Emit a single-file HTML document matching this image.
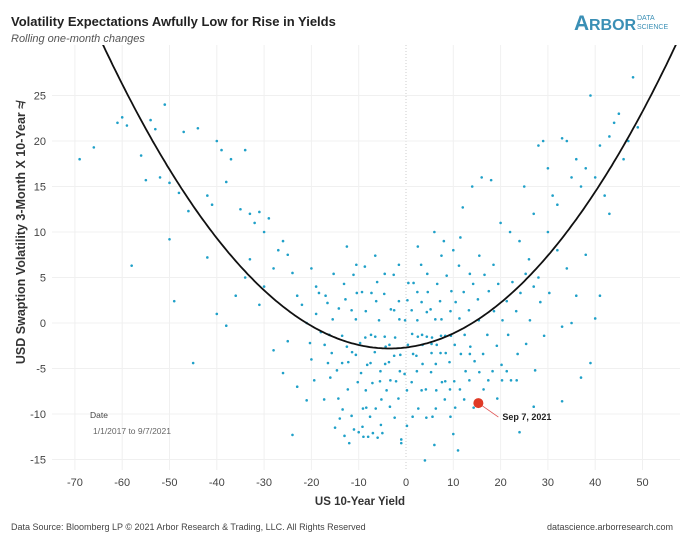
<!DOCTYPE html>
<html><head><meta charset="utf-8"><style>
body{margin:0;background:#fff;width:680px;height:544px;overflow:hidden;font-family:"Liberation Sans",sans-serif}
#c{position:absolute;left:0;top:0}
</style></head><body>
<svg id="c" width="680" height="544">
<text x="11" y="26" font-size="13" font-weight="bold" fill="#222">Volatility Expectations Awfully Low for Rise in Yields</text>
<text x="11" y="42" font-size="11" font-style="italic" fill="#555">Rolling one-month changes</text>
<g><text x="574" y="30" font-size="21" font-weight="bold" fill="#3a8fb5">A</text><text x="589" y="30" font-size="16" font-weight="bold" fill="#3a8fb5">RBOR</text><text x="637" y="20" font-size="7" fill="#3a8fb5">DATA</text><text x="637" y="29" font-size="7" fill="#3a8fb5">SCIENCE</text></g>
<g id="grid"></g><g id="pts"></g><g id="axes"></g>
<text transform="translate(25,233) rotate(-90)" text-anchor="middle" font-size="12.5" font-weight="bold" fill="#333">USD Swaption Volatility 3-Month X 10-Year ≉</text>
<text x="360" y="505" text-anchor="middle" font-size="11.5" font-weight="bold" fill="#333">US 10-Year Yield</text>
<text x="90" y="418" font-size="8.5" fill="#444">Date</text>
<text x="93" y="434" font-size="8.5" fill="#666">1/1/2017 to 9/7/2021</text>
<text x="11" y="530" font-size="9" fill="#444">Data Source: Bloomberg LP © 2021 Arbor Research &amp; Trading, LLC. All Rights Reserved</text>
<text x="673" y="530" text-anchor="end" font-size="9" fill="#444">datascience.arborresearch.com</text>
</svg>
<script>
const xTicks=[-70,-60,-50,-40,-30,-20,-10,0,10,20,30,40,50];
const yTicks=[25,20,15,10,5,0,-5,-10,-15];
const curveA=0.0091, curveX0=-3.5, curveMin=-2.8;
const highlight=[15.3,-8.8,"Sep 7, 2021"];
const points=[[-69,18],[-66,19.3],[-61,22],[-60,22.6],[-59,21.7],[-58,6.3],[-56,18.4],[-55,15.7],[-54,22.3],[-53,21.3],[-52,16],[-51,24],[-50,15.4],[-50,9.2],[-49,2.4],[-48,14.3],[-47,21],[-46,12.3],[-45,-4.4],[-44,21.4],[-42,14],[-42,7.2],[-41,13],[-40,20],[-39,19],[-38,15.5],[-37,18],[-35,12.5],[-34,19],[-33,12],[-32,11],[-31,12.2],[-30,10],[-29,11.5],[-40,1],[-38,-0.3],[-36,3],[-34,5],[-33,7],[-31,2],[-30,4],[-28,6],[-27,8],[-26,9],[-25,7.5],[-24,5.5],[-23,3],[-22,2],[-21,0],[-20,6],[-19,4],[-18,-1],[-28,-3],[-26,-5.5],[-24,-12.3],[-25,-2],[-23,-7],[-21,-8.5],[-20,-4],[-19,1],[-17,3],[-16,-6],[-15,-11.5],[-14,-10.5],[-13,-12.4],[-12,-13.2],[-11,-11.7],[-10,-12],[-9,-12.5],[-8,-12.5],[-7,-12.1],[-6,-12.6],[-5,-12.1],[-1,-12.8],[-1,-13.2],[4,-15.1],[6,-13.4],[10,-12.2],[11,-14],[24,-12],[27,-9.2],[33,-8.6],
[25,15],[27,12],[28,19.5],[29,20],[30,17],[31,14],[32,13],[33,20.3],[34,20],[35,16],[36,18],[37,15],[38,17],[39,25],[40,16],[41,19.5],[42,14],[43,20.5],[44,22],[45,23],[46,18],[47,20],[48,27],[49,21.5],[30,10],[32,8],[34,6],[36,3],[38,7.5],[40,0.5],[37,-6],[39,-4.4],[33,-0.4],[35,0],[41,3],[43,12],[18,15.7],[16,16],[14,15],[12,12.7],[6,10],[8,9],[10,8],[20,11],[22,10],[24,9],[26,7],[28,5],[27,4],
[-18.4,3.3],[-17.2,-2.4],[-16.6,2.2],[-15.3,5.4],[-15.7,-3.3],[-14.2,1.6],[-14.6,-5.2],[-13.1,4.3],[-13.5,-1.4],[-12.3,-7.3],[-12.8,2.6],[-11.4,-3.2],[-11.1,5.3],[-10.6,0.4],[-10.2,-6.5],[-9.3,3.4],[-9.7,-2.2],[-9.1,-9.4],[-8.5,1.3],[-8.2,-4.6],[-8.7,6.2],[-7.4,-1.3],[-7.1,-6.6],[-7.6,-10.3],[-6.3,2.4],[-6.6,-3.2],[-6.1,4.5],[-5.4,-5.3],[-5.7,0.3],[-5.2,-8.4],[-4.3,-2.6],[-4.6,3.2],[-4.1,-7.4],[-3.2,1.5],[-3.6,-4.3],[-3.4,-9.2],[-2.3,-1.6],[-2.6,5.3],[-2.1,-6.4],[-1.4,0.4],[-1.2,-3.5],[-1.6,-8.3],[0.3,2.5],[0.4,-2.4],[-0.3,-5.6],[0.2,-11.3],[1.3,-1.2],[1.6,4.4],[1.2,-6.5],[2.4,0.3],[2.2,-3.6],[2.6,-9.4],[3.3,2.3],[3.5,-4.5],[3.2,6.4],[4.4,-1.5],[4.2,-7.3],[4.6,3.4],[5.4,-2.3],[5.2,1.5],[5.6,-10.3],[6.3,-4.5],[6.6,4.3],[6.2,0.4],[7.3,-3.3],[7.6,-6.5],[7.2,2.4],[8.3,-1.4],[8.6,5.2],[8.2,-8.4],[9.4,1.3],[9.2,-4.3],[9.6,3.5],[10.3,-2.4],[10.5,2.3],[10.2,-6.4],[11.3,0.5],[11.6,-3.4],[11.2,6.3],[12.4,-1.3],[12.2,3.4],[12.6,-5.3],[13.3,1.4],[13.6,-2.6],[14.2,4.3],[14.5,-4.2],[15.4,0.3],[15.2,2.6],[16.3,-3.4],[16.6,5.3],[17.2,-1.3],[17.5,3.5],[18.3,-5.3],[18.6,1.3],[19.2,-2.5],[19.5,4.3],[20.4,0.3],[20.2,-4.6],[21.3,2.4],[21.6,-1.3],[22.2,-6.3],[22.5,4.5],[23.3,1.3],[23.6,-3.4],[24.2,3.3],[25.4,-2.3],[25.3,5.4],[26.2,0.3],[27.3,-5.2],[28.4,2.3],[29.2,-1.4],[30.3,3.3],
[-20.3,-2.2],[-19.4,-6.3],[-17.3,-8.4],[-16.2,-1.3],[-14.3,-8.3],[-13.4,-9.5],[-12.2,-4.3],[-11.5,-10.2],[-10.4,3.3],[-9.2,-11.4],[-8.4,-9.3],[-7.3,3.3],[-6.4,-9.4],[-5.3,-11.2],[-4.4,-4.5],[-3.3,-6.3],[-2.4,-10.4],[-1.3,-5.3],[0.2,-7.4],[-0.2,0.3],[1.4,-10.3],[1.2,1.4],[2.3,-5.3],[2.4,3.4],[3.3,-7.4],[3.4,-1.3],[4.3,-10.4],[4.4,1.2],[5.3,-5.4],[5.4,-3.3],[6.4,-7.4],[6.3,-9.4],[7.4,-1.4],[8.4,-3.3],[8.3,-6.4],[9.3,-7.3],[9.4,-10.3],[10.4,-9.3],[11.4,-7.3],[12.3,-8.4],[13.4,-6.3],[14.3,-9.3],[16.4,-7.3],[17.4,-6.3],[19.3,-8.3],[20.3,-6.3],[21.3,-5.3],[23.4,-6.3],[-12.5,-2.6],[-10.6,-3.5],[-8.6,-1.6],[-6.5,-1.5],[-4.5,-1.5],[-2.5,-3.6],[-1.5,2.4],[1.5,-3.4],[2.5,-1.5],[3.5,-2.4],[5.5,-1.6],[7.5,0.4],[-3.5,-2.4],[-7.5,-4.4],[-9.5,-5.5],[-11.5,1.4],[-13.5,-4.4],[-15.5,0.4],[-16.5,-4.4],[4.5,5.4],[7.5,7.4],[2.5,8.4],[-1.5,6.4],[-4.5,5.4],[-10.5,6.4],[13.5,5.4],[15.5,7.4],[18.5,6.4],[11.5,9.4],[-6.5,7.4],[-12.5,8.4],[-2.5,1.4],[0.5,4.4],[9.5,-1.4],[13.5,-3.4],[15.5,-5.4],[6.5,-2.4],[-5.5,-6.4],[-8.5,-7.4]];
const X=v=>406+(v)*4.73, Y=v=>323-v*9.1;
const ns="http://www.w3.org/2000/svg";
const g=document.getElementById('grid'),p=document.getElementById('pts'),ax=document.getElementById('axes');
function mk(t,a,par){const e=document.createElementNS(ns,t);for(const k in a)e.setAttribute(k,a[k]);par.appendChild(e);return e;}
xTicks.forEach(t=>{
const l=mk('line',{x1:X(t),x2:X(t),y1:45,y2:470,stroke:t===0?'#ccc':'#f0f0f0','stroke-dasharray':t===0?'1,2':''},g);


const tx=mk('text',{x:X(t),y:486,'text-anchor':'middle','font-size':11,fill:'#444'},ax);tx.textContent=t;


});
yTicks.forEach(t=>{
const l=mk('line',{x1:52,x2:680,y1:Y(t),y2:Y(t),stroke:'#f0f0f0'},g);


const tx=mk('text',{x:46,y:Y(t)+4,'text-anchor':'end','font-size':11,fill:'#444'},ax);tx.textContent=t;


});
points.forEach(d=>{
const c=mk('circle',{cx:X(d[0]),cy:Y(d[1]),r:1.3,fill:'#1fa0c8'},p);


});
let dd='';for(let v=-75;v<=58;v+=0.5){const y=curveMin+curveA*(v-curveX0)**2;if(y>32)continue;dd+=(dd?'L':'M')+X(v).toFixed(1)+','+Y(y).toFixed(1);}
const cp=document.createElementNS(ns,'clipPath');cp.id='clip';mk('rect',{x:52,y:45,width:628,height:425},cp);p.appendChild(cp);
const cv=mk('path',{d:dd,fill:'none',stroke:'#111','stroke-width':1.8,'clip-path':'url(#clip)'},p);


const hx=X(highlight[0]),hy=Y(highlight[1]);
const ln=mk('line',{x1:hx,y1:hy,x2:hx+20,y2:hy+14,stroke:'#e05050','stroke-width':0.8},p);


const hc=mk('circle',{cx:hx,cy:hy,r:5,fill:'#e03a26'},p);


const ht=mk('text',{x:hx+24,y:hy+17,'font-size':9,'font-weight':'bold',fill:'#222'},p);ht.textContent=highlight[2];


</script>
</body></html>
